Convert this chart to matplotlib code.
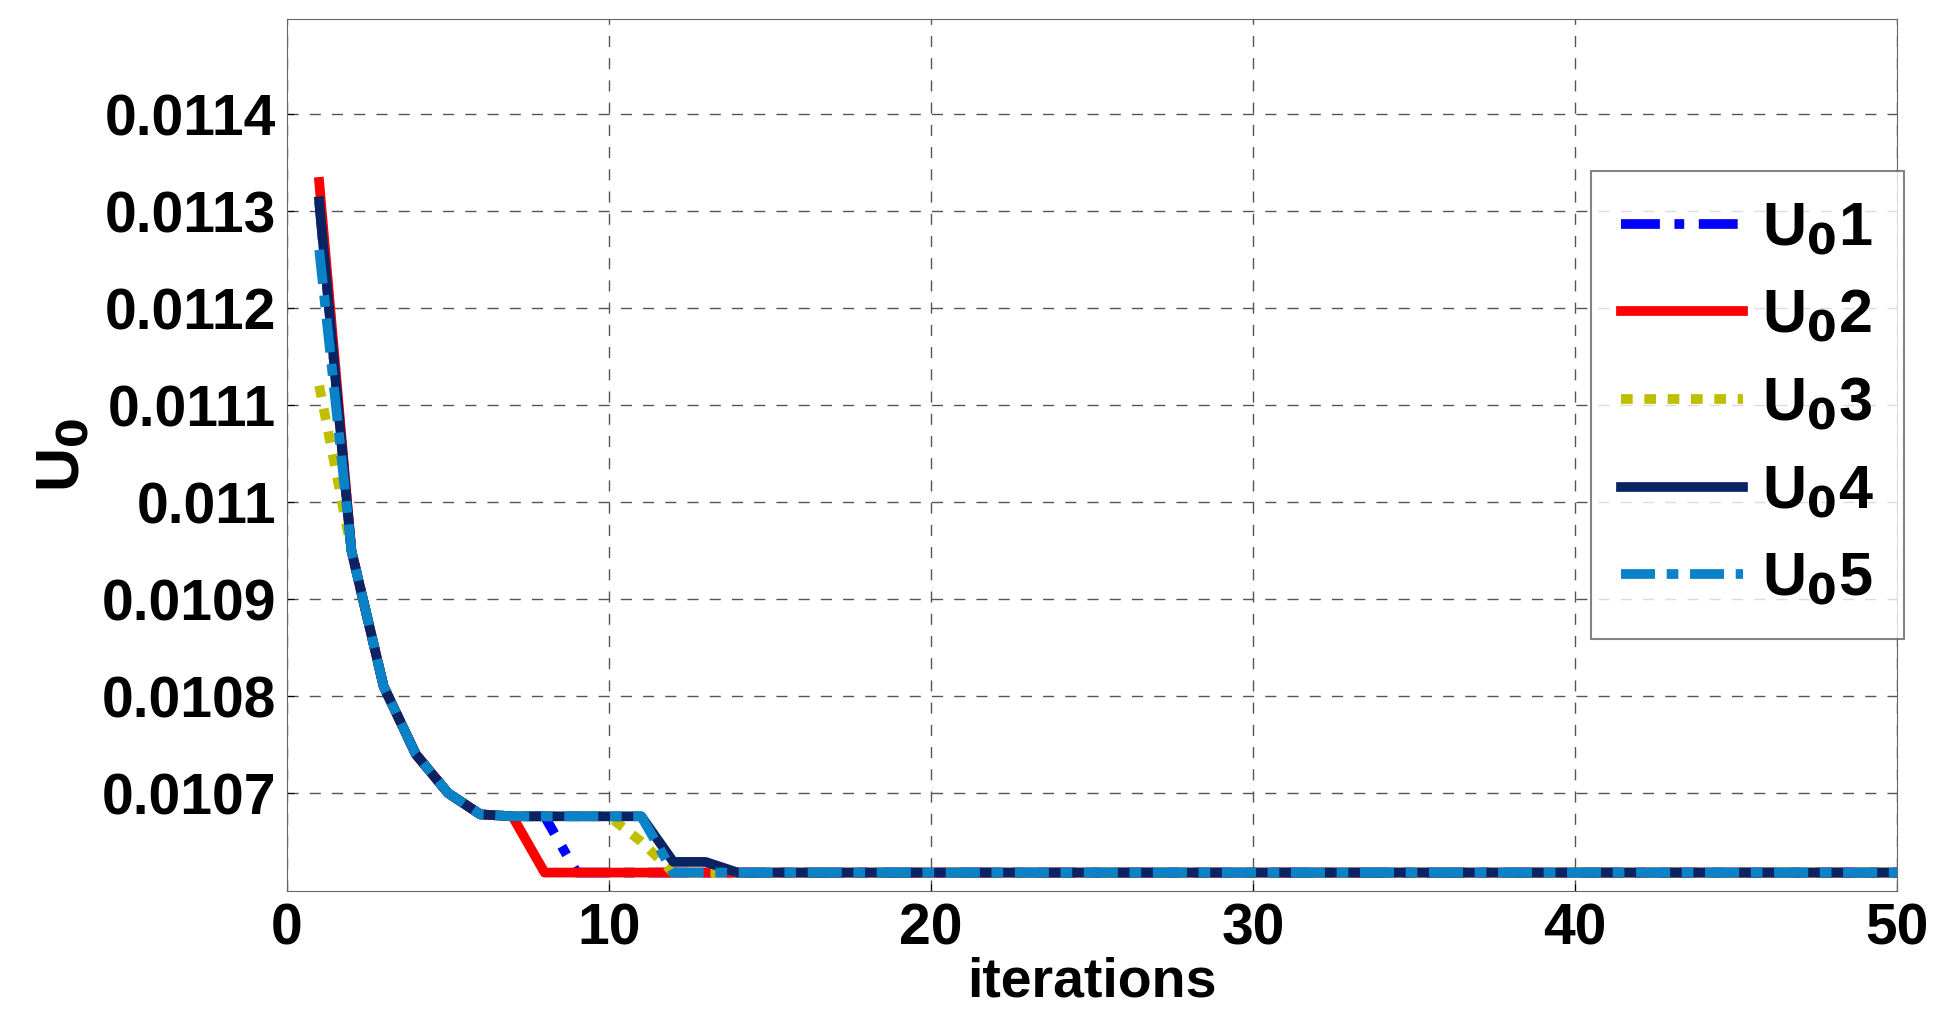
import matplotlib
matplotlib.use("Agg")
import matplotlib.pyplot as plt

plt.rcParams['font.family'] = ['Liberation Sans', 'DejaVu Sans']
plt.rcParams['font.weight'] = 'bold'
plt.rcParams['mathtext.default'] = 'bf'

iterations = list(range(1, 51))

# shared head of the curves (iterations 2..7)
head = [0.01095, 0.01081, 0.01074, 0.01070, 0.010678, 0.010676]
tail = 0.010618

u0_1 = [0.01131] + head + [0.010676, tail] + [tail] * 41
u0_2 = [0.01133] + head + [tail] * 43
u0_3 = [0.01112] + head + [0.010676, 0.010676, 0.010676, 0.010650, tail] + [tail] * 38
u0_4 = [0.01131] + head + [0.010676] * 4 + [0.010629, 0.010629, tail] + [tail] * 36
u0_5 = [0.01126] + head + [0.010676] * 4 + [tail] * 39

series = [u0_1, u0_2, u0_3, u0_4, u0_5]
labels = ['U$_0$1', 'U$_0$2', 'U$_0$3', 'U$_0$4', 'U$_0$5']
colors = ['#0000ff', '#ff0000', '#bfbf00', '#0a2463', '#0a82c8']
styles = [(0, (4, 1.5, 1, 1.5)), '-', (0, (1.2, 1.2)), '-', (0, (3.5, 1.2, 1.2, 1.2))]

fig = plt.figure(figsize=(19.41, 10.21), dpi=100)
ax = fig.add_axes([287 / 1941, 1 - 891 / 1021, (1897 - 287) / 1941, (891 - 19) / 1021])

for y, lab, c, ls in zip(series, labels, colors, styles):
    ax.plot(iterations, y, color=c, linestyle=ls, linewidth=7, label=lab)

ax.set_xlim(0, 50)
ax.set_ylim(0.010599, 0.011498)
ax.set_xticks([0, 10, 20, 30, 40, 50])
ax.set_yticks([0.0107, 0.0108, 0.0109, 0.011, 0.0111, 0.0112, 0.0113, 0.0114])
ax.set_yticklabels(['0.0107', '0.0108', '0.0109', '0.011', '0.0111', '0.0112', '0.0113', '0.0114'])
ax.tick_params(labelsize=41, length=5, direction='in', pad=8)
ax.grid(True, color='#555555', linestyle=(0, (8, 8)), linewidth=1)
for s in ax.spines.values():
    s.set_color('#666666')

ax.set_xlabel('iterations', fontsize=40, fontweight='bold', labelpad=0)
ax.set_ylabel('U$_0$', fontsize=44, fontweight='bold', labelpad=6)

leg = ax.legend(loc='upper left', bbox_to_anchor=(1560 / 1941, 1 - 140 / 1021),
                bbox_transform=fig.transFigure, fontsize=44, handlelength=2.0,
                labelspacing=0.5, fancybox=False, edgecolor='#666666',
                borderpad=0.5, handletextpad=0.3)
leg.get_frame().set_linewidth(1.5)

fig.savefig('out.png', dpi=100, facecolor='white')
